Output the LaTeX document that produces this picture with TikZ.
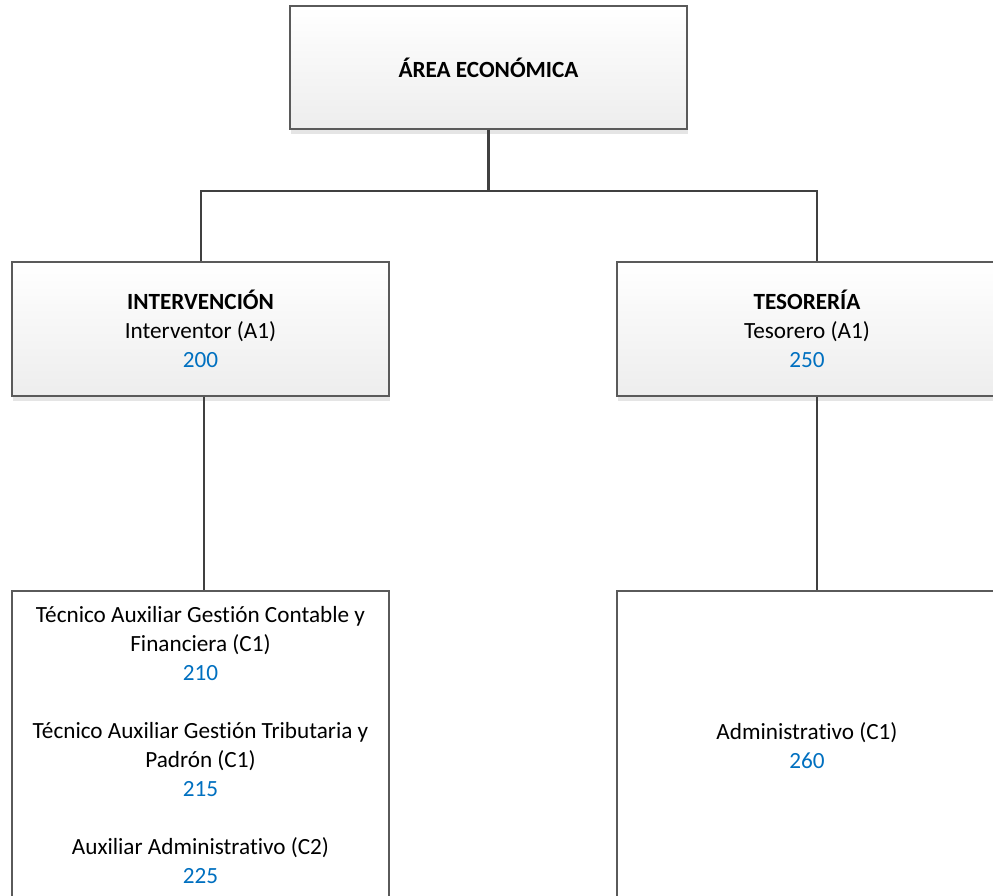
\documentclass[tikz,border=0pt]{standalone}
\usepackage{fontspec}
\setmainfont{Carlito}[Ligatures={NoCommon}]
\usetikzlibrary{shadows}
\definecolor{numblue}{HTML}{0070C0}
\definecolor{edgegray}{HTML}{5A5A5A}
\definecolor{wire}{HTML}{404040}
\newcommand{\cod}[1]{\textcolor{numblue}{#1}}
\begin{document}
\begin{tikzpicture}[x=0.75pt,y=0.75pt,
  unit/.style={draw=edgegray, line width=1pt, align=center, inner sep=0pt,
    font=\fontsize{17.4}{21.75}\selectfont, text=black},
  head/.style={unit, top color=white, bottom color=black!7,
    general shadow={fill=black!10, shadow yshift=-3.5pt, shadow xshift=1pt}},
  staff/.style={unit, fill=white},
  conn/.style={draw=wire, line width=1.8pt}]
\useasboundingbox (0,0) rectangle (993,-896);

% organisation boxes
\node[head, minimum width=297.75pt, minimum height=92.25pt] (area) at (488.5,-67.5)
  {\textbf{ÁREA ECONÓMICA}};
\node[head, minimum width=282.75pt, minimum height=100.5pt] (interv) at (200.5,-329)
  {\textbf{INTERVENCIÓN}\\Interventor (A1)\\\cod{200}};
\node[head, minimum width=285pt, minimum height=100.5pt] (teso) at (807,-329)
  {\textbf{TESORERÍA}\\Tesorero (A1)\\\cod{250}};
\node[staff, minimum width=282.75pt, minimum height=231.75pt] (tecn) at (200.5,-745.5)
  {Técnico Auxiliar Gestión Contable y\\Financiera (C1)\\\cod{210}\\[21.75pt]
   Técnico Auxiliar Gestión Tributaria y\\Padrón (C1)\\\cod{215}\\[21.75pt]
   Auxiliar Administrativo (C2)\\\cod{225}};
\node[staff, minimum width=285pt, minimum height=231.75pt] (admin) at (807,-745.5)
  {Administrativo (C1)\\\cod{260}};

% connector junctions
\coordinate (busL) at (201,-191);
\coordinate (busR) at (817,-191);
\coordinate (dropL) at (204,0);

\draw[conn] (area.south) -- (area.south |- busL);
\draw[conn] (interv.north -| busL) -- (busL) -- (busR) -- (teso.north -| busR);
\draw[conn] (interv.south -| dropL) -- (tecn.north -| dropL);
\draw[conn] (teso.south -| busR) -- (admin.north -| busR);
\end{tikzpicture}
\end{document}
